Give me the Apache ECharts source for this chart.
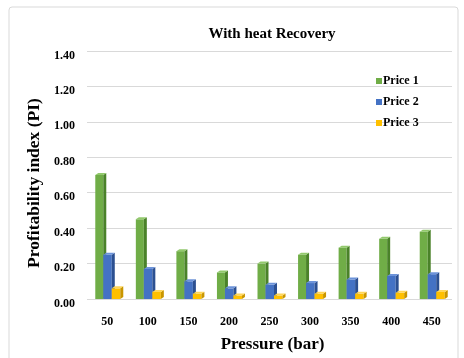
<!DOCTYPE html>
<html>
<head>
<meta charset="utf-8">
<script src="https://cdn.jsdelivr.net/npm/echarts@6/dist/echarts.min.js"></script>
<style>html,body{margin:0;padding:0;background:#fff}#c{width:464px;height:358px}</style>
</head>
<body>
<div id="c"></div>
<script>
const categories = ['50','100','150','200','250','300','350','400','450'];
const price1 = [0.70,0.45,0.27,0.15,0.20,0.25,0.29,0.34,0.38];
const price2 = [0.25,0.17,0.10,0.06,0.08,0.09,0.11,0.13,0.14];
const price3 = [0.06,0.04,0.03,0.02,0.02,0.03,0.03,0.035,0.04];
const yTicks = [0,0.2,0.4,0.6,0.8,1.0,1.2,1.4];

const FONT = '"Liberation Serif", "Times New Roman", serif';
const styles = [
  {name:'Price 1', front:'#70AD47', side:'#4A8229', top:'#92C96C', off:[-12,-4], data:price1},
  {name:'Price 2', front:'#4472C4', side:'#2C5091', top:'#6C93D9', off:[-4,4.5], data:price2},
  {name:'Price 3', front:'#FFC000', side:'#C99600', top:'#FFD658', off:[4.5,13], data:price3}
];

function makeRender(s){
  return function(params, api){
    const idx = api.value(0), v = api.value(1);
    const base = api.coord([idx, 0]);
    const top = api.coord([idx, v]);
    const x0 = base[0] + s.off[0], x1 = base[0] + s.off[1];
    const d = 3, h = 2;
    return {
      type:'group',
      children:[
        {type:'rect', shape:{x:x0, y:top[1], width:x1-x0, height:base[1]-top[1]}, style:{fill:s.front}},
        {type:'polygon', shape:{points:[[x1,top[1]],[x1+d,top[1]-h],[x1+d,base[1]-h],[x1,base[1]]]}, style:{fill:s.side}},
        {type:'polygon', shape:{points:[[x0,top[1]],[x0+d,top[1]-h],[x1+d,top[1]-h],[x1,top[1]]]}, style:{fill:s.top}}
      ]
    };
  };
}

const chart = echarts.init(document.getElementById('c'), null, {renderer:'canvas'});
chart.setOption({
  animation:false,
  backgroundColor:'#fff',
  graphic:[{type:'rect', shape:{x:9, y:7, width:449, height:360, r:3}, style:{fill:'none', stroke:'#d9d9d9', lineWidth:1}}],
  title:{text:'With heat Recovery', left:267, top:22, textAlign:'center',
    textStyle:{fontFamily:FONT, fontWeight:'bold', fontSize:15, color:'#000'}},
  legend:{orient:'vertical', left:371, top:70, itemGap:9, itemWidth:6, itemHeight:6, icon:'rect',
    textStyle:{fontFamily:FONT, fontWeight:'bold', fontSize:12, color:'#000', padding:[0,0,0,-4]},
    data:styles.map(s=>({name:s.name, itemStyle:{color:s.front}}))},
  grid:{left:87, right:12, top:51, bottom:55, containLabel:false},
  xAxis:{type:'category', data:categories,
    axisLine:{show:false}, axisTick:{show:false},
    axisLabel:{fontFamily:FONT, fontWeight:'bold', fontSize:12, color:'#000', margin:17},
    name:'Pressure (bar)', nameLocation:'middle', nameGap:37,
    nameTextStyle:{fontFamily:FONT, fontWeight:'bold', fontSize:17, color:'#000', padding:[0,0,0,6]}},
  yAxis:{type:'value', min:0, max:1.4, interval:0.2,
    axisLine:{show:false}, axisTick:{show:false},
    splitLine:{lineStyle:{color:'#d9d9d9', width:1}},
    axisLabel:{fontFamily:FONT, fontWeight:'bold', fontSize:12, color:'#000', margin:12,
      verticalAlign:'top', lineHeight:9, formatter:v=>v.toFixed(2)},
    name:'Profitability index (PI)', nameLocation:'middle', nameGap:44, nameRotate:90,
    nameTextStyle:{fontFamily:FONT, fontWeight:'bold', fontSize:17.5, color:'#000', padding:[0,16,0,0]}},
  series:styles.map(s=>({
    name:s.name, type:'custom', itemStyle:{color:s.front},
    renderItem:makeRender(s),
    encode:{x:0, y:1},
    data:s.data.map((v,i)=>[i,v])
  }))
});
</script>
</body>
</html>
